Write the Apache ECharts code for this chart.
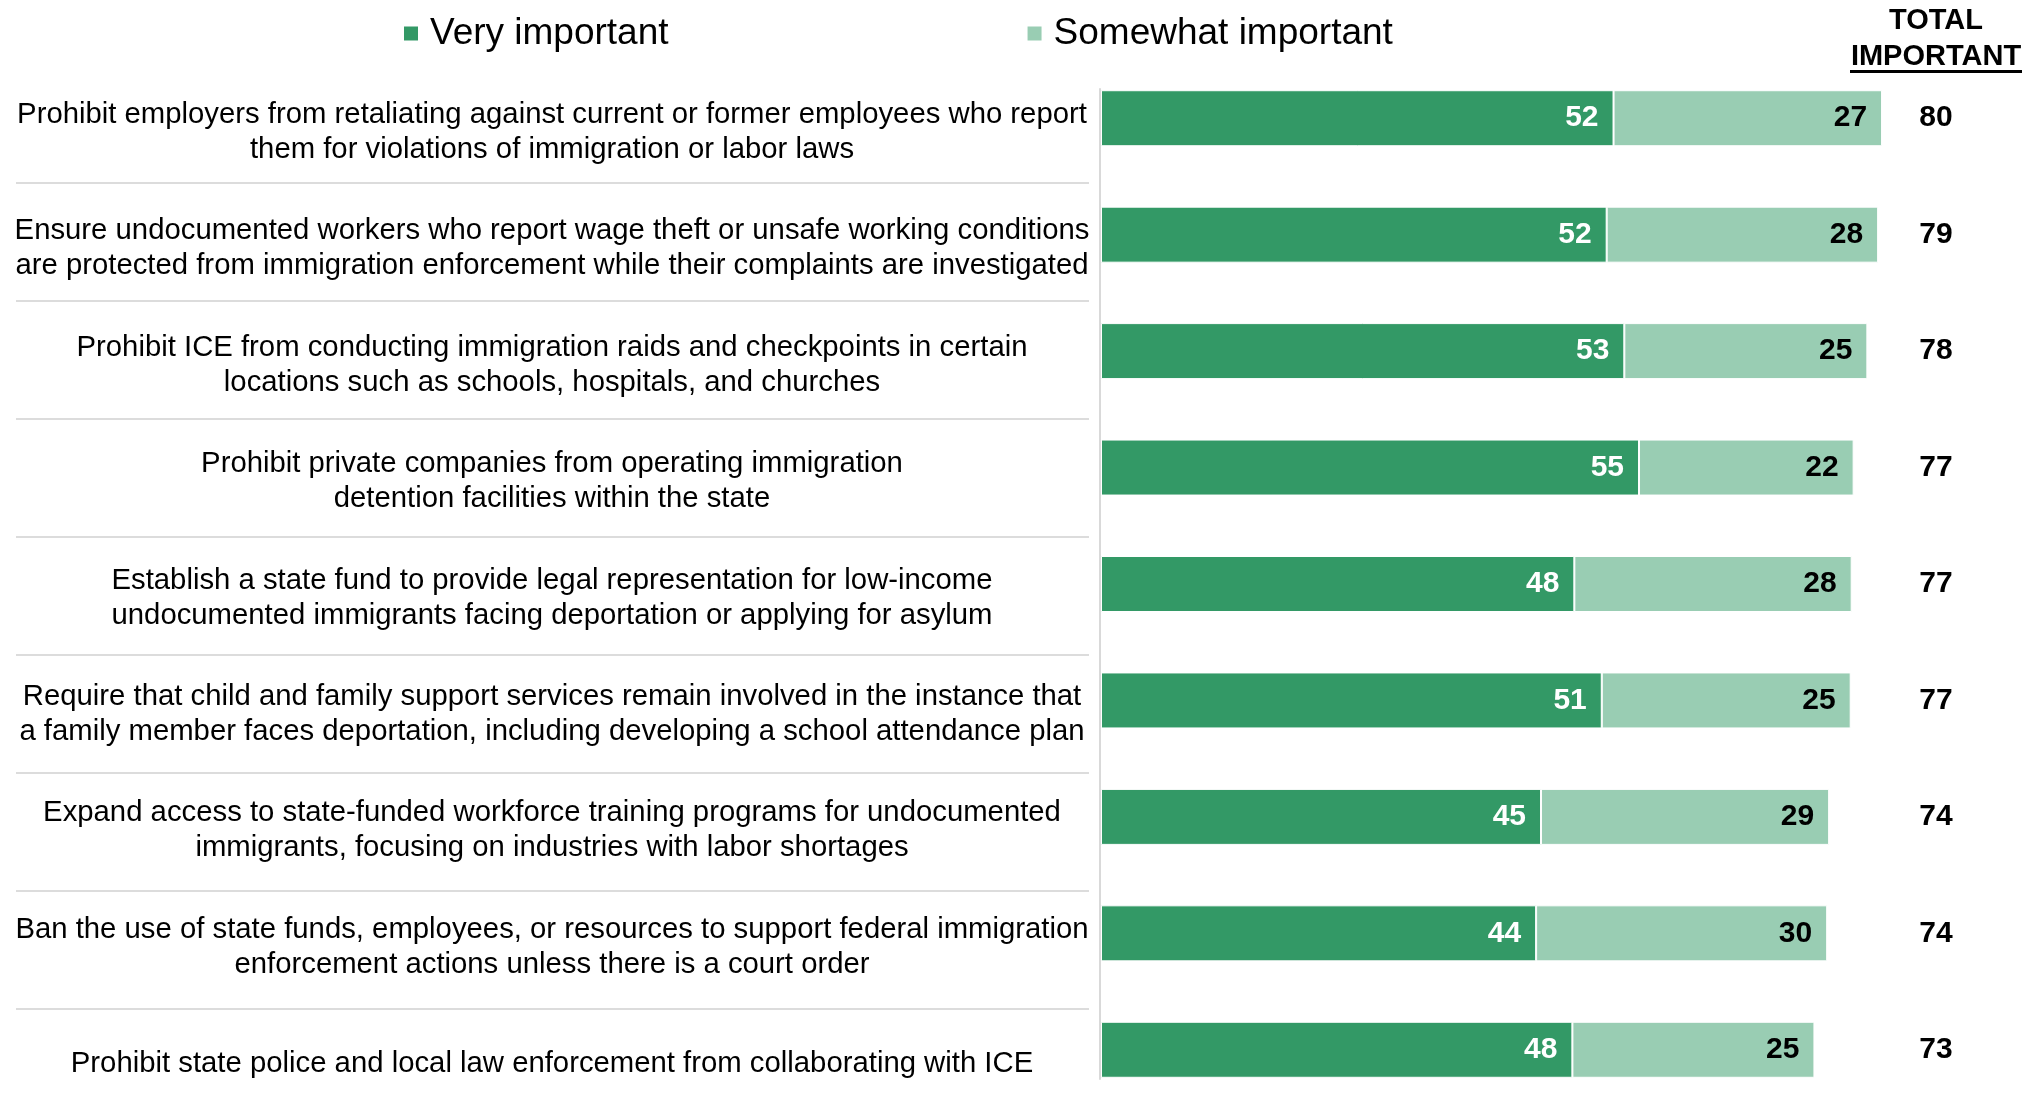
<!DOCTYPE html>
<html lang="en">
<head>
    <meta charset="UTF-8">
    <title>Immigration policy importance</title>
    <script src="https://cdn.jsdelivr.net/npm/echarts@6/dist/echarts.min.js"></script>
    <style>
        html, body {margin: 0; padding: 0; background: #fff;}
        #main {width: 2043px; height: 1102px;}
    </style>
    <script>
        // data
        var policies = [
            'Prohibit employers from retaliating against current or former employees who report\nthem for violations of immigration or labor laws',
            'Ensure undocumented workers who report wage theft or unsafe working conditions\nare protected from immigration enforcement while their complaints are investigated',
            'Prohibit ICE from conducting immigration raids and checkpoints in certain\nlocations such as schools, hospitals, and churches',
            'Prohibit private companies from operating immigration\ndetention facilities within the state',
            'Establish a state fund to provide legal representation for low-income\nundocumented immigrants facing deportation or applying for asylum',
            'Require that child and family support services remain involved in the instance that\na family member faces deportation, including developing a school attendance plan',
            'Expand access to state-funded workforce training programs for undocumented\nimmigrants, focusing on industries with labor shortages',
            'Ban the use of state funds, employees, or resources to support federal immigration\nenforcement actions unless there is a court order',
            'Prohibit state police and local law enforcement from collaborating with ICE'
        ];
        var veryImportant = [52.3, 51.6, 53.4, 54.9, 48.3, 51.1, 44.9, 44.4, 48.1];
        var somewhatImportant = [27.4, 27.7, 24.8, 21.9, 28.3, 25.4, 29.4, 29.7, 24.7];
        var totalImportant = [80, 79, 78, 77, 77, 77, 74, 74, 73];
    </script>
</head>
<body>
<div id="main"></div>
<script>
    var FONT = '"Liberation Sans", Arial, sans-serif';
    var myChart = echarts.init(document.getElementById('main'));

    // policy text sits a little below the bar centre: an empty spacer line on top pushes it down
    function policyLabel(v) {
        return '{s| }\n' + v.split('\n').map(function (l) { return '{t|' + l + '}'; }).join('\n');
    }

    var option = {
        animation: false,
        textStyle: {fontFamily: FONT},
        legend: {
            data: ['Very important', 'Somewhat important'],
            left: 402,
            top: 15,
            padding: 0,
            icon: 'rect',
            itemWidth: 16,
            itemHeight: 16,
            itemGap: 357,
            textStyle: {fontSize: 37, color: '#000', fontFamily: FONT, padding: [0, 0, 0, 6]}
        },
        graphic: [
            {
                type: 'text',
                x: 1936,
                y: 3,
                style: {
                    text: 'TOTAL\nIMPORTANT',
                    textAlign: 'center',
                    font: 'bold 29px ' + FONT,
                    lineHeight: 36,
                    fill: '#000'
                }
            },
            {
                type: 'rect',
                shape: {x: 1850, y: 70, width: 172, height: 3},
                style: {fill: '#000'}
            }
        ],
        grid: [
            {left: 1101, top: 60, width: 833, height: 1048, outerBoundsMode: 'none'},   // bars
            {left: 16, top: 65, width: 1073, height: 1062, outerBoundsMode: 'none'},    // row separators
            {left: 1100, top: 89, width: 10, height: 990, outerBoundsMode: 'none'}      // vertical axis line
        ],
        xAxis: [
            {gridIndex: 0, type: 'value', min: 0, max: 85, show: false},
            {gridIndex: 1, type: 'value', min: 0, max: 1, show: false},
            {gridIndex: 2, type: 'value', min: 0, max: 1, show: false}
        ],
        yAxis: [
            {
                gridIndex: 0,
                type: 'category',
                inverse: true,
                data: policies,
                axisLine: {show: false},
                axisTick: {show: false},
                splitLine: {show: false},
                axisLabel: {
                    interval: 0,
                    align: 'center',
                    margin: 549,
                    formatter: policyLabel,
                    rich: {
                        s: {fontSize: 1, lineHeight: 28},
                        t: {fontSize: 29.3, lineHeight: 35, color: '#000', fontFamily: FONT, align: 'center'}
                    }
                }
            },
            {
                gridIndex: 0,
                type: 'category',
                inverse: true,
                position: 'right',
                data: totalImportant,
                axisLine: {show: false},
                axisTick: {show: false},
                axisLabel: {
                    interval: 0,
                    align: 'center',
                    margin: 2,
                    fontSize: 30,
                    fontWeight: 'bold',
                    color: '#000'
                }
            },
            {
                gridIndex: 1,
                type: 'category',
                inverse: true,
                data: policies,
                axisLine: {show: false},
                axisTick: {show: false},
                axisLabel: {show: false},
                splitLine: {
                    show: true,
                    showMinLine: false,
                    showMaxLine: false,
                    lineStyle: {color: '#dcdcdc', width: 2}
                }
            },
            {
                gridIndex: 2,
                type: 'value',
                min: 0,
                max: 1,
                axisLine: {show: true, lineStyle: {color: '#d9d9d9', width: 2}},
                axisTick: {show: false},
                axisLabel: {show: false},
                splitLine: {show: false}
            }
        ],
        series: [
            {
                name: 'Very important',
                type: 'bar',
                stack: 'imp',
                xAxisIndex: 0,
                yAxisIndex: 0,
                barWidth: 56,
                data: veryImportant,
                itemStyle: {color: '#339966', borderColor: '#fff', borderWidth: 1},
                label: {
                    show: true,
                    position: 'insideRight',
                    distance: 15,
                    color: '#fff',
                    fontSize: 30,
                    fontWeight: 'bold',
                    fontFamily: FONT,
                    formatter: function (p) { return Math.round(p.value); }
                }
            },
            {
                name: 'Somewhat important',
                type: 'bar',
                stack: 'imp',
                xAxisIndex: 0,
                yAxisIndex: 0,
                barWidth: 56,
                data: somewhatImportant,
                itemStyle: {color: '#99cdb3', borderColor: '#fff', borderWidth: 1},
                label: {
                    show: true,
                    position: 'insideRight',
                    distance: 15,
                    color: '#000',
                    fontSize: 30,
                    fontWeight: 'bold',
                    fontFamily: FONT,
                    formatter: function (p) { return Math.round(p.value); }
                }
            }
        ]
    };

    myChart.setOption(option);
</script>
</body>
</html>
